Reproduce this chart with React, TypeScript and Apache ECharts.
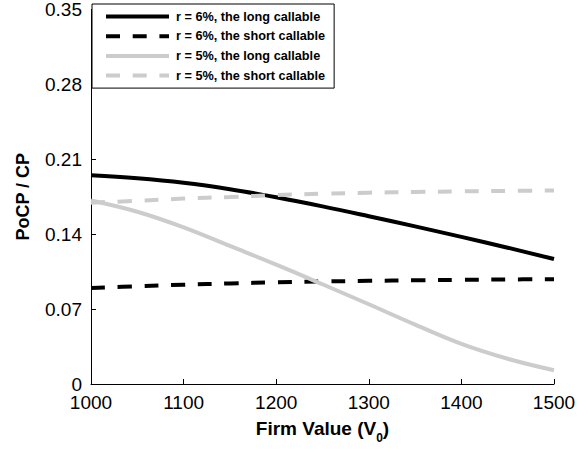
import React, { useEffect, useRef } from "react";
import * as echarts from "echarts";

const xValues = [1000, 1050, 1100, 1150, 1200, 1250, 1300, 1350, 1400, 1450, 1500];
const longR6 = [0.195, 0.1922, 0.188, 0.182, 0.1745, 0.166, 0.1568, 0.1473, 0.1375, 0.1274, 0.1168];
const shortR6 = [0.0897, 0.0913, 0.0928, 0.094, 0.095, 0.0958, 0.0964, 0.0969, 0.0973, 0.0977, 0.098];
const longR5 = [0.1715, 0.161, 0.1464, 0.129, 0.1115, 0.0932, 0.0745, 0.0555, 0.0375, 0.0236, 0.0128];
const shortR5 = [0.1695, 0.1712, 0.1733, 0.1748, 0.1765, 0.1778, 0.1788, 0.1795, 0.18, 0.1805, 0.1808];
const seriesNames = [
  "r = 6%, the long callable",
  "r = 6%, the short callable",
  "r = 5%, the long callable",
  "r = 5%, the short callable",
];
const yTicks = [0, 0.07, 0.14, 0.21, 0.28, 0.35];

const FONT = 'Arial, "Liberation Sans", Helvetica, sans-serif';
const GREY = "#cccccc";
const DASH = [14, 12.7];

export default function App() {
  const ref = useRef<HTMLDivElement>(null);
  useEffect(() => {
    if (!ref.current) return;
    const chart = echarts.init(ref.current, null, { renderer: "svg" });
    const mk = (name: string, vals: number[], color: string, dashed: boolean) => ({
      name,
      type: "line",
      data: xValues.map((x, i) => [x, vals[i]]),
      smooth: 0.4,
      symbol: "none",
      lineStyle: { color, width: 4, type: dashed ? DASH : "solid", cap: "butt" },
      itemStyle: { color },
    });
    chart.setOption({
      animation: false,
      backgroundColor: "#ffffff",
      grid: { left: 91, right: 33, top: 7.5, bottom: 66, containLabel: false },
      legend: {
        data: seriesNames,
        orient: "vertical",
        left: 92,
        top: 4,
        itemWidth: 63,
        itemHeight: 14,
        itemGap: 6.7,
        padding: [6, 9, 6, 12],
        borderColor: "#000",
        borderWidth: 1,
        backgroundColor: "#fff",
        itemStyle: { opacity: 0 },
        lineStyle: { width: "inherit", type: "inherit", color: "inherit" },
        textStyle: {
          fontFamily: FONT,
          fontWeight: "bold",
          fontSize: 12.7,
          color: "#000",
          padding: [0, 0, 0, 2],
        },
      },
      xAxis: {
        type: "value",
        min: 1000,
        max: 1500,
        interval: 100,
        name: "{m|Firm Value (V}{s|0}{m|)}",
        nameLocation: "middle",
        nameGap: 28,
        nameTextStyle: {
          rich: {
            m: { fontFamily: FONT, fontWeight: "bold", fontSize: 19, color: "#000", lineHeight: 32 },
            s: { fontFamily: FONT, fontWeight: "bold", fontSize: 12, color: "#000", lineHeight: 12, verticalAlign: "bottom" },
          },
        },
        axisLine: { lineStyle: { color: "#000", width: 1 } },
        axisTick: { inside: true, length: 5, lineStyle: { color: "#000" } },
        axisLabel: {
          fontFamily: FONT,
          fontSize: 19,
          color: "#000",
          margin: 9,
          formatter: (v: number) => String(Math.round(v)),
        },
        splitLine: { show: false },
      },
      yAxis: {
        type: "value",
        min: yTicks[0],
        max: yTicks[yTicks.length - 1],
        interval: 0.07,
        name: "PoCP / CP",
        nameLocation: "middle",
        nameGap: 59,
        nameTextStyle: { fontFamily: FONT, fontWeight: "bold", fontSize: 18, color: "#000" },
        axisLine: { show: true, lineStyle: { color: "#000", width: 1 } },
        axisTick: { show: true, inside: true, length: 5, lineStyle: { color: "#000" } },
        axisLabel: {
          fontFamily: FONT,
          fontSize: 19,
          lineHeight: 15,
          color: "#000",
          margin: 9,
          formatter: (v: number) => (Math.abs(v) < 1e-9 ? "0" : v.toFixed(2)),
        },
        splitLine: { show: false },
      },
      series: [
        mk(seriesNames[0], longR6, "#000000", false),
        mk(seriesNames[1], shortR6, "#000000", true),
        mk(seriesNames[2], longR5, GREY, false),
        mk(seriesNames[3], shortR5, GREY, true),
      ],
    });
    return () => chart.dispose();
  }, []);
  return (
    <div
      ref={ref}
      style={{ position: "fixed", left: 0, top: 0, width: 587, height: 450, background: "#fff" }}
    />
  );
}
